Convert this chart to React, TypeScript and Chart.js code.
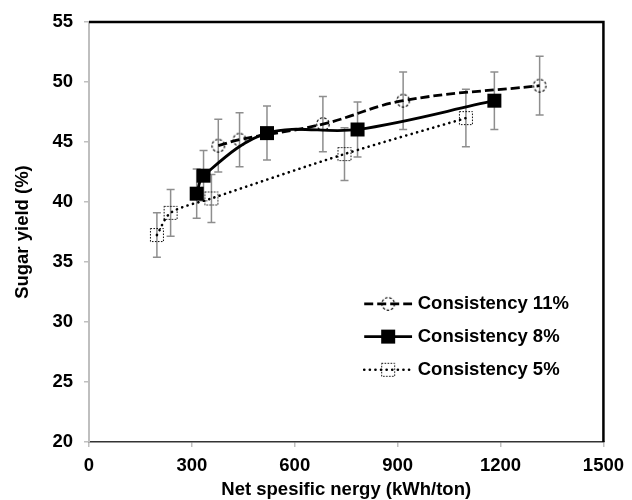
import React, { useEffect, useRef } from "react";
import { Chart, registerables } from "chart.js";

Chart.register(...registerables);

const seriesNames = ["Consistency 11%", "Consistency 8%", "Consistency 5%"];

const x11 = [377, 439, 682, 916, 1314];
const y11 = [44.7, 45.2, 46.5, 48.45, 49.7];
const e11 = [2.2, 2.25, 2.3, 2.4, 2.45];

const x8 = [314, 334, 519, 783, 1182];
const y8 = [40.7, 42.2, 45.75, 46.05, 48.45];
const e8 = [2.05, 2.1, 2.25, 2.3, 2.4];

const x5 = [198, 238, 357, 745, 1099];
const y5 = [37.25, 39.1, 40.3, 44.0, 47.0];
const e5 = [1.85, 1.95, 2.0, 2.2, 2.4];

const xTicks = [0, 300, 600, 900, 1200, 1500];
const yTicks = [20, 25, 30, 35, 40, 45, 50, 55];

const FONT = "'Liberation Sans', Arial, sans-serif";
const FS = 18.5;

function makeMarker(kind: string): HTMLCanvasElement {
  const c = document.createElement("canvas");
  const s = 16;
  c.width = s;
  c.height = s;
  const ctx = c.getContext("2d")!;
  ctx.strokeStyle = "#000";
  ctx.fillStyle = "#000";
  if (kind === "circle") {
    ctx.lineWidth = 1.2;
    ctx.setLineDash([2.5, 1.8]);
    ctx.beginPath();
    ctx.arc(s / 2, s / 2, 6.3, 0, Math.PI * 2);
    ctx.stroke();
  } else if (kind === "solid") {
    ctx.fillRect(1, 1, 14, 14);
  } else {
    ctx.lineWidth = 1;
    ctx.setLineDash([1.5, 1.5]);
    ctx.strokeRect(1.5, 1.5, 13, 13);
  }
  return c;
}

export default function App() {
  const ref = useRef<HTMLCanvasElement | null>(null);

  useEffect(() => {
    document.body.style.margin = "0";
    const canvas = ref.current!;
    const mCircle = makeMarker("circle");
    const mSolid = makeMarker("solid");
    const mDot = makeMarker("dotted");

    const errs = [e11, e8, e5];
    const dashes = [[9, 4], [], [0.1, 5.5]];
    const widths = [2.8, 2.8, 2.6];
    const markers = [mCircle, mSolid, mDot];

    const errorBars = {
      id: "errorBars",
      beforeDatasetsDraw(chart: any) {
        const { ctx } = chart;
        const xs = chart.scales.x;
        const ys = chart.scales.y;
        ctx.save();
        ctx.strokeStyle = "#8e8e8e";
        ctx.lineWidth = 1.5;
        chart.data.datasets.forEach((ds: any, i: number) => {
          ds.data.forEach((p: any, j: number) => {
            const px = xs.getPixelForValue(p.x);
            const top = ys.getPixelForValue(p.y + errs[i][j]);
            const bot = ys.getPixelForValue(p.y - errs[i][j]);
            ctx.beginPath();
            ctx.moveTo(px, top);
            ctx.lineTo(px, bot);
            ctx.moveTo(px - 4, top);
            ctx.lineTo(px + 4, top);
            ctx.moveTo(px - 4, bot);
            ctx.lineTo(px + 4, bot);
            ctx.stroke();
          });
        });
        ctx.restore();
      },
      afterDraw(chart: any) {
        const { ctx, chartArea } = chart;
        ctx.save();
        // top and right frame
        ctx.strokeStyle = "#000";
        ctx.lineWidth = 2.5;
        ctx.beginPath();
        ctx.moveTo(chartArea.left, chartArea.top);
        ctx.lineTo(chartArea.right, chartArea.top);
        ctx.lineTo(chartArea.right, chartArea.bottom);
        ctx.stroke();
        // legend
        const w = chartArea.right - chartArea.left;
        const h = chartArea.bottom - chartArea.top;
        const lx0 = chartArea.left + w * 0.535;
        const lx1 = chartArea.left + w * 0.628;
        const tx = chartArea.left + w * 0.639;
        const rows = [0.671, 0.749, 0.828].map((f) => chartArea.top + h * f);
        seriesNames.forEach((name, i) => {
          const y = rows[i];
          ctx.save();
          ctx.strokeStyle = "#000";
          ctx.lineWidth = widths[i];
          ctx.setLineDash(dashes[i]);
          ctx.lineCap = i === 2 ? "round" : "butt";
          ctx.beginPath();
          ctx.moveTo(lx0, y);
          ctx.lineTo(lx1, y);
          ctx.stroke();
          ctx.restore();
          const m = markers[i];
          ctx.drawImage(m, (lx0 + lx1) / 2 - m.width / 2, y - m.height / 2);
          ctx.fillStyle = "#000";
          ctx.font = "bold " + FS + "px " + FONT;
          ctx.textBaseline = "middle";
          ctx.textAlign = "left";
          ctx.fillText(name, tx, y);
        });
        ctx.restore();
      },
    };

    const mk = (xs: number[], ys: number[]) => xs.map((x, i) => ({ x, y: ys[i] }));

    const chart = new Chart(canvas, {
      type: "scatter",
      data: {
        datasets: [
          {
            label: seriesNames[0],
            data: mk(x11, y11),
            showLine: true,
            borderColor: "#000",
            borderWidth: widths[0],
            borderDash: dashes[0],
            tension: 0.4,
            pointStyle: mCircle as any,
          },
          {
            label: seriesNames[1],
            data: mk(x8, y8),
            showLine: true,
            borderColor: "#000",
            borderWidth: widths[1],
            tension: 0.35,
            pointStyle: mSolid as any,
          },
          {
            label: seriesNames[2],
            data: mk(x5, y5),
            showLine: true,
            borderColor: "#000",
            borderWidth: widths[2],
            borderDash: dashes[2],
            borderCapStyle: "round",
            tension: 0.3,
            pointStyle: mDot as any,
          },
        ],
      },
      options: {
        animation: false,
        responsive: false,
        layout: { padding: { left: 0, right: 24, top: 21, bottom: 0 } },
        plugins: {
          legend: { display: false },
          tooltip: { enabled: false },
        },
        scales: {
          x: {
            type: "linear",
            min: 0,
            max: 1500,
            afterBuildTicks(scale: any) {
              scale.ticks = xTicks.map((v) => ({ value: v }));
            },
            afterFit(scale: any) {
              scale.height = 58;
            },
            grid: {
              drawOnChartArea: false,
              drawTicks: true,
              tickLength: 5,
              color: "#bfbfbf",
              lineWidth: 1.5,
            },
            border: { color: "#333", width: 1.5 },
            ticks: {
              color: "#000",
              padding: 8,
              font: { family: FONT, size: FS, weight: "bold" },
              maxRotation: 0,
              callback: (v: any) => String(v),
            },
            title: {
              display: true,
              text: "Net spesific nergy (kWh/ton)",
              color: "#000",
              font: { family: FONT, size: FS, weight: "bold" },
              padding: { top: 0, bottom: -1 },
            },
          },
          y: {
            type: "linear",
            min: 20,
            max: 55,
            afterBuildTicks(scale: any) {
              scale.ticks = yTicks.map((v) => ({ value: v }));
            },
            afterFit(scale: any) {
              scale.width = 89;
            },
            grid: {
              drawOnChartArea: false,
              drawTicks: true,
              tickLength: 5,
              color: "#bfbfbf",
              lineWidth: 1.5,
            },
            border: { color: "#bfbfbf", width: 2 },
            ticks: {
              color: "#000",
              padding: 11,
              font: { family: FONT, size: FS, weight: "bold" },
              callback: (v: any) => String(v),
            },
            title: {
              display: true,
              text: "Sugar yield (%)",
              color: "#000",
              font: { family: FONT, size: FS, weight: "bold" },
              padding: { top: 12, bottom: 0 },
            },
          },
        },
      },
      plugins: [errorBars],
    });
    return () => chart.destroy();
  }, []);

  return (
    <div style={{ width: 632, height: 500 }}>
      <canvas ref={ref} width={632} height={500} style={{ display: "block" }} />
    </div>
  );
}
